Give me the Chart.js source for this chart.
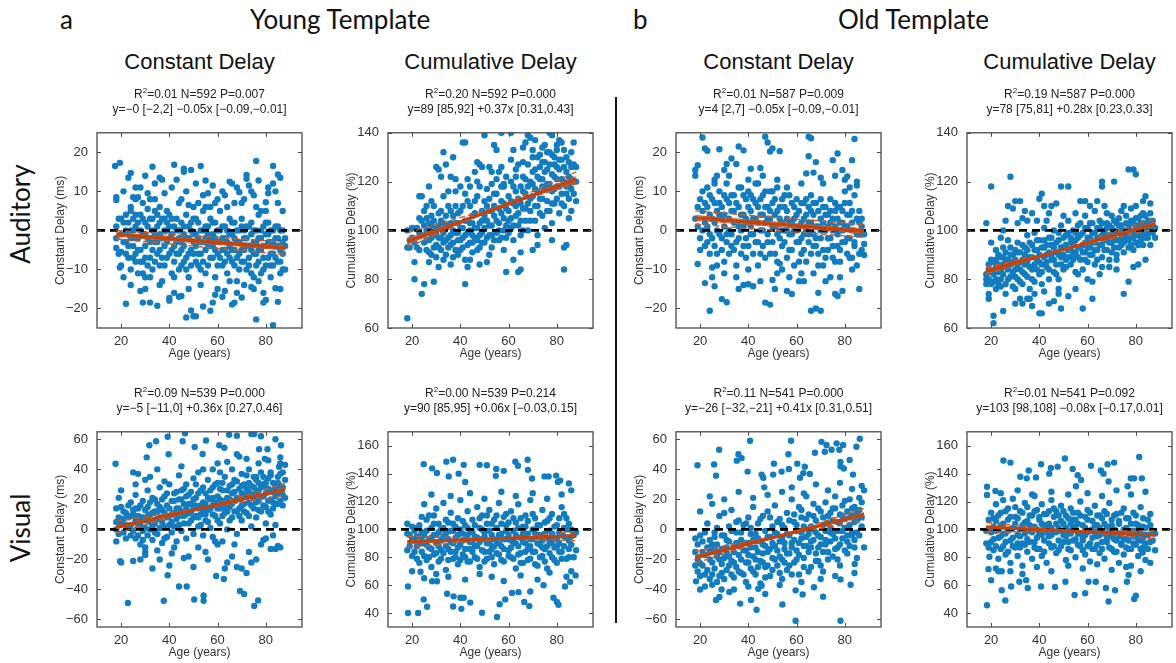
<!DOCTYPE html>
<html>
<head>
<meta charset="utf-8">
<script src="https://cdn.jsdelivr.net/npm/chart.js@4.4.0/dist/chart.umd.min.js"></script>
<style>
  html, body { margin: 0; padding: 0; background: #fff; }
  #fig { position: relative; width: 1176px; height: 663px; overflow: hidden; font-family: 'Liberation Sans', Arial, sans-serif; color: #1a1a1a; }
  .abs { position: absolute; white-space: nowrap; }
  .big { font-family: Lato, 'Open Sans', sans-serif; font-size: 26px; color: #111; }
  .coltitle { font-size: 22px; color: #111; text-align: center; width: 205px; }
  .stats { font-size: 12px; line-height: 15px; text-align: center; width: 260px; color: #222; }
  .stats sup { font-size: 8px; vertical-align: 5px; line-height: 0; }
  canvas { position: absolute; }
</style>
</head>
<body>
<div id="fig"></div>
<script>
/* ── Data (age in years, delay) ──────────────────────────────────────── */
const ageTicks = [20, 40, 60, 80];
const fitAges = [18, 88];

const youngAudConst = [
  [17.5,16.5],[19.5,17.3],[18,8.5],[18,7.8],[19,3],[18,1],[18,-4.5],[19.5,-9.5],[20,-5.5],[22,-18.8],[21,10],[23,13.5],[24,14.7],[25,8.5],[24,-14],[26,8],[26,-6],[27,8.5],[28,11],[28,-15.5],[29,-18.5],[30,14],[31,9.5],[31,5.5],[32,-18.5],[33,16.3],[34,8],[35,-19.3],[36,13.5],[37,13],[38,9.5],[40,-18],[40,-17.3],[42,16.8],[43,13],[44,-17],[45,-16.8],[46,15.8],[46,15],[47,-22.3],[48,6.5],[49,15.5],[49,-20.5],[50,-22],[51,12],[51,-22],[53,16.5],[54,-19.5],[55,12.8],[56,9.5],[57,-20.6],[58,11.5],[58,-18.5],[59,-16.5],[62,-17],[63,-15.5],[65,12.5],[66,12],[66,-19],[67,-18.5],[68,-16],[69,9.8],[70,-17.2],[72,14.2],[72,13.2],[73,11.5],[74,-14.5],[75,-15],[76,17.8],[76,-22.8],[77,12.8],[78,5],[79,-16],[79,-18.5],[80,7.2],[80,-17.8],[81,11],[81,9.5],[83,16.5],[83,12],[83,-24.3],[84,10],[84,-14.8],[85,14.3],[86,13.5],[85,-18.3],[87,5],[87,-10],[88,-10],[88,-2],
  [32,8],[44,7],[52,7],[60,8],[64,6],[70,7],[75,9],[41,11],[47,10],[57,6],
  [20,-1],[21,2],[22,-3],[22,4],[23,-7],[24,0],[24,-10],[25,3],[25,-4],[26,-8],[26,1],[27,-2],[27,-11],[28,4],[28,-5],[29,-1],[29,-8],[30,2],[30,-12],[30,-4],[31,-2],[32,3],[32,-7],[33,0],[33,-10],[34,-3],[34,5],[35,-6],[35,1],[36,-1],[36,-9],[37,3],[37,-13],[38,-4],[38,0],[39,2],[39,-7],[40,-2],[40,4],[41,-5],[41,-11],[42,1],[42,-8],[43,-3],[43,3],[44,-6],[44,0],[45,2],[45,-9],[46,-4],[46,-1],[47,4],[47,-7],[48,-2],[48,-12],[49,0],[49,-5],[50,3],[50,-3],[51,-8],[51,-1],[52,2],[52,-6],[53,-10],[53,-3],[54,0],[54,5],[55,-5],[55,-2],[56,-9],[56,1],[57,-4],[57,3],[58,-1],[58,-7],[59,-12],[59,2],[60,-3],[60,-6],[61,0],[61,5],[62,-9],[62,-2],[63,-5],[63,1],[64,-11],[64,-3],[65,-7],[65,3],[66,-1],[66,-5],[67,2],[67,-9],[68,-3],[68,-13],[69,0],[69,-6],[70,3],[70,-8],[71,-2],[71,-5],[72,-10],[72,1],[73,-4],[73,-7],[74,2],[74,-1],[75,-6],[75,-12],[76,0],[76,-3],[77,-8],[77,4],[78,-2],[78,-5],[79,1],[79,-10],[80,-4],[80,-1],[81,-7],[81,2],[82,-3],[82,-9],[83,0],[83,-6],[84,-2],[84,-4],[85,-8],[85,1],[86,-5],[86,-11],[87,-3],[87,0],
  [18,-2],[19,-6],[20,3],[20,-9],[21,-3],[21,-12],[22,0],[22,-6],[23,2],[23,-4],[24,-2],[24,6],[25,-7],[25,0],[26,-2],[26,4],[27,-5],[27,2],[28,-8],[28,0],[29,3],[29,-11],[30,-1],[30,-7],[31,1],[31,-9],[32,-3],[32,-12],[33,-5],[33,3],[34,-1],[34,-8],[35,-3],[35,4],[36,2],[36,-5],[37,-2],[37,-7],[38,-9],[38,3],[39,-3],[39,0],[40,-6],[40,1],[41,-1],[41,3],[42,-4],[42,-12],[43,-6],[43,0],[44,-2],[44,-10],[45,-5],[45,-3],[46,1],[46,-8],[47,-2],[47,-10],[48,1],[48,-6],[49,-9],[49,2],[50,-6],[50,-1],[51,-4],[51,3],[52,-2],[52,-9],[53,0],[53,-6],[54,-3],[54,-8],[55,1],[55,-11],[56,-4],[56,-1],[57,-7],[57,-2],[58,2],[58,-4],[59,-5],[59,-2],[60,0],[60,-9],[61,-3],[61,-7],[62,1],[62,-5],[63,-2],[63,-8],[64,0],[64,-6],[65,-4],[65,-1],[66,-8],[66,2],[67,-5],[67,-2],[68,0],[68,-7],[69,-3],[69,-10],[70,-5],[70,1],[71,-8],[71,0],[72,-4],[72,-2],[73,-9],[73,1],[74,-5],[74,-11],[75,-3],[75,0],[76,-6],[76,-9],[77,-2],[77,-5],[78,0],[78,-11],[79,-4],[79,-7],[80,2],[80,-9],[81,-3],[81,-1],[82,-6],[82,0],[83,-3],[83,-9],[84,1],[84,-7],[85,-4],[85,-2],[86,-8],[86,0],[87,-6],[88,-4],
  [24,5],[29,7],[36,6],[39,5],[45,8],[50,6],[54,9],[59,7],[63,9],[67,7],[71,8],[76,6],[80,5],[85,7],[26,11],[34,12],[55,6],[62,10],[68,11],[74,10],[30,-15],[36,-14],[42,-16],[48,-15],[53,-14],[60,-15],[65,-13],[71,-14],[77,-13],[82,-12],[86,-15]
];
const youngAudCum = [
  [18,64],[18,93],[18,100],[19,96],[21,87],[21,80],[24,74],[25,78],[23,114],[24,114],[26,110],[27,118],[29,79],[30,126],[31,125],[32,122],[33,132],[34,127],[35,116],[36,122],[37,130],[38,121],[39,90],[40,118],[41,136],[42,136],[42,78],[43,85],[44,118],[45,106],[46,124],[47,128],[48,127],[49,126],[50,139],[51,87],[52,126],[53,119],[54,135],[55,133],[56,124],[57,140],[58,119],[59,83],[61,140],[62,133],[63,125],[64,83],[65,84],[66,134],[67,136],[68,139],[69,138],[70,92],[71,137],[72,130],[73,126],[74,128],[75,135],[76,132],[77,140],[78,139],[79,130],[80,133],[81,137],[82,136],[83,84],[83,93],[84,94],[85,105],[86,126],[87,136],[88,126],
  [20,97],[22,101],[22,93],[23,99],[24,104],[25,95],[25,108],[26,92],[26,100],[27,103],[27,96],[28,90],[28,106],[29,98],[29,110],[30,94],[30,101],[31,97],[31,107],[32,92],[32,104],[33,99],[33,88],[34,96],[34,106],[35,102],[35,93],[36,98],[36,108],[37,95],[37,89],[38,103],[38,99],[39,107],[39,96],[40,92],[40,101],[41,110],[41,97],[42,104],[42,88],[43,99],[43,112],[44,95],[44,103],[45,98],[45,91],[46,107],[46,101],[47,96],[47,114],[48,103],[48,93],[49,108],[49,99],[50,95],[50,112],[51,104],[51,117],[52,98],[52,108],[53,102],[53,93],[54,110],[54,106],[55,99],[55,115],[56,103],[56,96],[57,112],[57,107],[58,100],[58,118],[59,109],[59,97],[60,114],[60,104],[61,101],[61,120],[62,111],[62,96],[63,106],[63,116],[64,102],[64,113],[65,118],[65,98],[66,109],[66,122],[67,104],[67,115],[68,111],[68,100],[69,120],[69,108],[70,114],[70,124],[71,104],[71,117],[72,110],[72,98],[73,121],[73,113],[74,106],[74,118],[75,124],[75,101],[76,112],[76,119],[77,108],[77,127],[78,116],[78,103],[79,122],[79,111],[80,118],[80,126],[81,107],[81,129],[82,115],[82,121],[83,110],[83,126],[84,118],[84,130],[85,113],[85,122],[86,117],[86,108],[87,120],[88,112],
  [19,93],[20,101],[21,95],[23,105],[23,92],[24,98],[25,102],[26,96],[26,105],[27,91],[27,100],[28,97],[28,102],[29,93],[29,104],[30,99],[30,89],[31,102],[31,93],[32,97],[32,108],[33,95],[33,103],[34,90],[34,101],[35,97],[35,110],[36,94],[36,103],[37,100],[37,106],[38,92],[38,110],[39,99],[39,103],[40,96],[40,108],[41,93],[41,101],[42,98],[42,115],[43,94],[43,104],[44,100],[44,110],[45,95],[45,103],[46,97],[46,112],[47,101],[47,92],[48,98],[48,118],[49,95],[49,104],[50,101],[50,106],[51,97],[51,110],[52,102],[52,113],[53,108],[53,98],[54,96],[54,115],[55,104],[55,121],[56,109],[56,100],[57,97],[57,118],[58,105],[58,111],[59,102],[59,122],[60,99],[60,108],[61,112],[61,105],[62,118],[62,102],[63,110],[63,122],[64,107],[64,127],[65,111],[65,104],[66,116],[66,100],[67,121],[67,109],[68,118],[68,127],[69,113],[69,104],[70,119],[70,130],[71,110],[71,125],[72,116],[72,122],[73,107],[73,131],[74,121],[74,113],[75,117],[75,128],[76,125],[76,108],[77,119],[77,132],[78,123],[78,111],[79,127],[79,117],[80,121],[80,113],[81,125],[81,118],[82,129],[82,111],[83,120],[83,133],[84,124],[84,115],[85,128],[85,119],[86,121],[86,132],[87,115],[87,127],[88,120],
  [80,135],[78,131],[74,134],[70,133],[66,128],[61,129],[57,126],[53,124],[47,120],[43,121],[38,116],[33,114],[28,112],[65,91],[58,92],[52,90],[48,86],[44,88],[36,86],[31,85],[27,87],[72,94],[78,96],[62,88]
];
const oldAudConst = [
  [18,14],[18,15.5],[19,16.7],[21,23.8],[22,21],[23,20.4],[23,-3],[19,-8.6],[22,-13.5],[24,-20.6],[25,-9.5],[26,-14.3],[28,20.8],[29,-17.6],[31,-18.4],[33,18.4],[31,17],[30,15.5],[27,14],[35,17],[36,21.5],[38,20.5],[41,15.8],[47,24],[48,22.5],[49,20.2],[50,21],[53,20.3],[45,16],[44,12],[40,-13.8],[42,-14.3],[38,-14],[36,-15],[47,-18.5],[49,-19],[50,-12.7],[51,-15],[53,-8.5],[56,-15.5],[58,-16.3],[62,-11],[63,-13],[66,23.6],[65,24],[65,19],[67,14.8],[68,17.5],[70,13.5],[66,-20.6],[68,-20],[70,-20.6],[69,-16],[74,-12],[76,-16.3],[77,-16.8],[79,-15.5],[75,18],[77,19.7],[79,15.5],[81,13.8],[83,18],[84,23.4],[85,11.5],[86,-15],[88,-6.3],[88,-3.5],[85,12.5],[82,11],[64,14.6],
  [19,1],[20,-2],[21,5],[22,2],[23,6],[24,-1],[24,9],[25,3],[26,-4],[26,7],[27,0],[27,-6],[28,4],[28,10],[29,-2],[29,6],[30,1],[30,-8],[31,8],[31,-3],[32,3],[32,-6],[33,5],[33,-1],[34,-5],[34,9],[35,2],[35,-9],[36,6],[36,-2],[37,0],[37,11],[38,-4],[38,4],[39,8],[39,-7],[40,2],[40,10],[41,-1],[41,5],[42,-6],[42,8],[43,3],[43,-3],[44,6],[44,-9],[45,0],[45,4],[46,9],[46,-4],[47,2],[47,-7],[48,6],[48,-1],[49,10],[49,3],[50,-3],[50,7],[51,1],[51,-6],[52,5],[52,11],[53,-2],[53,3],[54,8],[54,-4],[55,0],[55,6],[56,-7],[56,3],[57,9],[57,-1],[58,2],[58,-5],[59,6],[59,0],[60,-3],[60,4],[61,-8],[61,1],[62,7],[62,-2],[63,3],[63,-5],[64,0],[64,8],[65,-3],[65,2],[66,5],[66,-6],[67,-1],[67,4],[68,-4],[68,7],[69,1],[69,-9],[70,3],[70,-2],[71,6],[71,-5],[72,0],[72,-7],[73,4],[73,-2],[74,2],[74,8],[75,-4],[75,0],[76,5],[76,-8],[77,-1],[77,3],[78,6],[78,-5],[79,0],[79,2],[80,-3],[80,7],[81,-6],[81,1],[82,4],[82,-2],[83,-7],[83,2],[84,0],[84,-4],[85,3],[85,-9],[86,-1],[86,5],[87,-5],[87,1],
  [18,3],[19,6],[20,8],[20,-5],[21,0],[21,10],[22,-4],[22,7],[23,1],[23,11],[24,4],[24,-6],[25,8],[25,-2],[26,2],[26,12],[27,5],[27,-9],[28,-1],[28,7],[29,3],[29,-5],[30,9],[30,4],[31,-1],[31,12],[32,7],[32,0],[33,-4],[33,9],[34,2],[34,5],[35,7],[35,-3],[36,1],[36,11],[37,-6],[37,4],[38,9],[38,1],[39,3],[39,-2],[40,6],[40,-4],[41,9],[41,1],[42,3],[42,-1],[43,7],[43,12],[44,2],[44,-3],[45,8],[45,-6],[46,4],[46,0],[47,6],[47,10],[48,-3],[48,3],[49,5],[49,-6],[50,1],[50,10],[51,4],[51,8],[52,-1],[52,-8],[53,6],[53,0],[54,2],[54,-10],[55,9],[55,-3],[56,5],[56,0],[57,2],[57,-5],[58,7],[58,-1],[59,3],[59,-9],[60,8],[60,0],[61,5],[61,-3],[62,2],[62,-6],[63,7],[63,-1],[64,4],[64,-8],[65,6],[65,-1],[66,2],[66,9],[67,-4],[67,7],[68,1],[68,-2],[69,5],[69,-6],[70,8],[70,0],[71,2],[71,-9],[72,4],[72,6],[73,-5],[73,1],[74,-2],[74,5],[75,3],[75,-7],[76,1],[76,7],[77,-4],[77,6],[78,2],[78,-8],[79,5],[79,-3],[80,1],[80,10],[81,-2],[81,4],[82,-7],[82,7],[83,0],[83,5],[84,-3],[84,9],[85,-1],[86,2],[86,-6],[87,3],[88,-1],
  [25,-12],[30,-11],[35,-12],[40,-10],[45,-13],[52,-11],[57,-12],[61,-13],[67,-11],[72,-13],[78,-12],[83,-10],[26,13],[32,14],[40,13],[46,14],[52,13],[56,11],[62,12],[71,12],[76,14],[80,13]
];
const oldAudCum = [
  [18,103],[20,118],[19,72],[21,65],[21,62],[25,67],[28,122],[30,112],[32,112],[32,72],[41,115],[40,113],[49,118],[52,118],[42,110],[40,66],[41,66],[49,68],[58,68],[62,72],[66,118],[66,120],[71,120],[75,74],[77,79],[79,125],[77,125],[80,123],[83,112],[84,114],[18,78],[18,80],[19,74],[22,76],[23,78],[26,104],[27,110],[25,100],[29,109],[33,105],[34,108],[37,107],[35,104],[43,104],[45,110],[47,111],[55,107],[57,112],[59,112],[61,110],[63,108],[64,112],[68,107],[70,106],[73,105],[75,110],[80,110],[82,106],[86,111],[87,104],[30,70],[33,70],[35,72],[37,69],[44,70],[46,71],[48,74],[52,73],[55,76],[62,79],[65,82],[69,85],[72,84],[79,85],[81,86],[84,88],
  [19,84],[20,88],[21,79],[22,85],[22,92],[23,83],[24,89],[24,80],[25,86],[25,93],[26,78],[26,88],[27,84],[27,96],[28,81],[28,90],[29,87],[29,77],[30,92],[30,84],[31,80],[31,95],[32,87],[32,91],[33,83],[33,78],[34,93],[34,86],[35,81],[35,98],[36,89],[36,76],[37,94],[37,84],[38,79],[38,99],[39,88],[39,92],[40,82],[40,96],[41,86],[41,78],[42,93],[42,101],[43,85],[43,90],[44,97],[44,80],[45,88],[45,94],[46,83],[46,100],[47,91],[47,86],[48,96],[48,80],[49,89],[49,102],[50,93],[50,84],[51,98],[51,88],[52,92],[52,104],[53,86],[53,95],[54,100],[54,90],[55,83],[55,96],[56,93],[56,102],[57,88],[57,98],[58,94],[58,84],[59,101],[59,91],[60,97],[60,87],[61,103],[61,93],[62,90],[62,99],[63,95],[63,86],[64,101],[64,92],[65,97],[65,104],[66,89],[66,94],[67,100],[67,96],[68,92],[68,103],[69,98],[69,88],[70,101],[70,95],[71,93],[71,104],[72,99],[72,90],[73,96],[73,102],[74,94],[74,100],[75,98],[75,91],[76,103],[76,96],[77,100],[77,93],[78,97],[78,104],[79,99],[79,92],[80,102],[80,95],[81,98],[81,105],[82,96],[82,101],[83,103],[83,94],[84,99],[84,106],[85,97],[85,101],[86,94],[86,103],[87,99],[88,97],
  [18,82],[19,86],[19,80],[20,83],[20,78],[21,87],[21,82],[22,80],[22,88],[23,86],[23,90],[24,84],[24,77],[25,82],[25,89],[26,85],[26,91],[27,80],[27,88],[28,86],[28,93],[29,83],[29,90],[30,88],[30,81],[31,86],[31,91],[32,84],[32,79],[33,88],[33,94],[34,82],[34,90],[35,87],[35,92],[36,85],[36,95],[37,89],[37,80],[38,92],[38,86],[39,84],[39,96],[40,90],[40,87],[41,93],[41,83],[42,89],[42,96],[43,94],[43,87],[44,91],[44,84],[45,97],[45,90],[46,88],[46,93],[47,95],[47,82],[48,90],[48,99],[49,93],[49,86],[50,97],[50,90],[51,94],[51,85],[52,89],[52,99],[53,92],[53,97],[54,88],[54,94],[55,91],[55,99],[56,97],[56,89],[57,93],[57,103],[58,99],[58,91],[59,95],[59,88],[60,93],[60,101],[61,97],[61,90],[62,95],[62,103],[63,99],[63,92],[64,97],[64,88],[65,101],[65,94],[66,98],[66,103],[67,92],[67,99],[68,97],[68,101],[69,95],[69,102],[70,98],[70,91],[71,100],[71,97],[72,96],[72,103],[73,99],[73,93],[74,102],[74,97],[75,100],[75,95],[76,98],[76,106],[77,102],[77,96],[78,100],[78,94],[79,103],[79,97],[80,99],[80,105],[81,101],[81,94],[82,103],[82,98],[83,100],[83,107],[84,102],[84,97],[85,104],[85,99],[86,100],[86,107],[87,102],[88,101],
  [78,109],[74,108],[67,110],[59,106],[50,106],[44,107],[39,104],[31,103],[24,97],[20,95],[48,76],[42,75],[38,74],[30,76],[26,74],[60,80],[66,85],[56,82],[72,88],[36,72]
];
const youngVisConst = [
  [17.7,43.7],[22.8,-49],[37.7,-47.5],[50.3,-46.7],[54.2,-44],[54.2,-47.5],[75.2,-51],[76.8,-47.3],[71,-43],[69.3,-41],[59.4,-31],[62.6,-33],[39.3,-30.5],[47.2,-38],[19.6,-21.2],
  [46.5,64],[39.3,61.7],[34.5,58.7],[31.7,56],[30.6,48],[39.7,50],[45.5,58.7],[50.5,54.9],[53.8,50.2],[55.2,59.2],[60.7,56],[62.8,54.4],[64.8,63],[68,62.4],[69,48.5],[74,63.5],[75.2,63.5],[78,62],[77.2,53.4],[80.7,53.4],[79.6,47],[84,60],[85.5,41.7],[86,44],[86.3,56],
  [25,38],[27,37],[30,33],[35,40],[45,42],[47,30],[52,38],[58,40],[61,38],[66,40],[70,37],[73,40],[76,35],[80,28],[82,36],[84,30],[87,38],[88,43],
  [18,-8],[20,-22],[25,-21],[28,-20],[30,-17],[33,-26],[36,-20],[40,-24],[41,-16],[44,-38],[46,-19],[50,-25],[52,-12],[56,-20],[58,-5],[60,-10],[63,-26],[64,-22],[66,-18],[68,-25],[70,-26],[72,-29],[74,-22],[76,-20],[78,-10],[79,-7],[82,-13],[85,-11],[86,-12],[84,-13],
  [18,5],[18,14],[19,21],[20,26],[21,12],[22,3],[23,8],[24,-4],[24,18],[25,10],[26,-6],[26,23],[27,14],[27,2],[28,-10],[28,8],[29,19],[29,-1],[30,6],[30,-12],[31,15],[31,26],[32,0],[32,10],[33,-7],[33,21],[34,12],[34,4],[35,-3],[35,17],[36,8],[36,28],[37,-9],[37,13],[38,2],[38,22],[39,16],[39,-5],[40,9],[40,30],[41,5],[41,-2],[42,19],[42,11],[43,-8],[43,25],[44,14],[44,3],[45,-1],[45,20],[46,9],[46,27],[47,15],[47,-6],[48,4],[48,23],[49,12],[49,17],[50,-3],[50,8],[51,21],[51,30],[52,14],[52,2],[53,26],[53,10],[54,18],[54,-4],[55,6],[55,24],[56,13],[56,33],[57,20],[57,1],[58,16],[58,28],[59,9],[59,-8],[60,22],[60,31],[61,14],[61,4],[62,26],[62,18],[63,11],[63,35],[64,21],[64,0],[65,29],[65,15],[66,8],[66,24],[67,19],[67,33],[68,12],[68,-3],[69,27],[69,20],[70,16],[70,6],[71,30],[71,23],[72,11],[72,36],[73,25],[73,18],[74,2],[74,29],[75,21],[75,14],[76,33],[76,8],[77,26],[77,19],[78,38],[78,12],[79,30],[79,22],[80,15],[80,4],[81,27],[81,34],[82,20],[82,10],[83,31],[83,25],[84,17],[84,3],[85,24],[85,35],[86,29],[86,19],[87,23],[88,33],
  [18,0],[19,8],[19,-3],[20,4],[20,15],[21,-2],[21,7],[22,11],[22,-6],[23,1],[23,16],[24,9],[24,3],[25,-1],[25,13],[26,6],[26,14],[27,-4],[27,9],[28,3],[28,16],[29,8],[29,-7],[30,13],[30,1],[31,9],[31,-4],[32,18],[32,5],[33,11],[33,2],[34,-2],[34,20],[35,7],[35,12],[36,15],[36,1],[37,5],[37,20],[38,11],[38,-6],[39,8],[39,24],[40,14],[40,3],[41,19],[41,10],[42,2],[42,24],[43,14],[43,7],[44,20],[44,9],[45,12],[45,26],[46,4],[46,17],[47,10],[47,22],[48,17],[48,11],[49,6],[49,25],[50,14],[50,20],[51,9],[51,16],[52,24],[52,8],[53,16],[53,3],[54,12],[54,28],[55,17],[55,10],[56,21],[56,5],[57,14],[57,26],[58,10],[58,21],[59,18],[59,30],[60,14],[60,6],[61,20],[61,27],[62,9],[62,31],[63,19],[63,15],[64,26],[64,12],[65,20],[65,6],[66,30],[66,17],[67,12],[67,25],[68,21],[68,32],[69,14],[69,9],[70,24],[70,29],[71,17],[71,12],[72,22],[72,27],[73,31],[73,9],[74,16],[74,23],[75,28],[75,35],[76,18],[76,25],[77,13],[77,31],[78,22],[78,28],[79,16],[79,35],[80,24],[80,31],[81,19],[81,12],[82,26],[82,38],[83,18],[83,14],[84,22],[84,28],[85,31],[85,17],[86,25],[86,37],[87,28],[87,16],[88,21],
  [30,-15],[35,-14],[42,-12],[48,-18],[55,-15],[62,-8],[67,-10],[73,-15],[80,-6],[83,-4],[26,30],[32,35],[38,32],[44,36],[50,34],[54,40],[60,44],[64,45],[68,50],[72,47],[77,44],[81,46],[86,48]
];
const youngVisCum = [
  [24.8,146.8],[28.3,143.8],[30.3,140.4],[34.2,148.6],[35.2,138],[37,150],[39.3,140],[41.4,146.3],[42,134],[48,146.3],[51,146],[54.9,143.4],[54.7,138.4],[58,142],[62.8,148.6],[63.9,145.7],[67.9,150],[68,142.7],[69.7,136.5],[74.9,138],[76.6,138],[79.7,138.6],[80.4,134],[81.4,135],[85,133],
  [18.3,40],[22.5,40],[18.3,59],[20,70],[23.5,69.6],[24.8,49.8],[26.2,44.5],[28.3,62.8],[30.3,62.8],[34.5,53.9],[37,44.7],[37.2,52],[40,51],[41.4,51],[40.4,43],[44.1,47.5],[49,40.2],[55.2,37.2],[56.3,46.3],[58.6,49.8],[61.4,54.4],[64.1,55],[66.5,48],[68.6,45],[69,55.5],[74.5,60],[78.6,51],[80,48],[80.7,46],[83.4,59],[85.5,62.4],[87.8,67],
  [18,85],[18,104],[19,96],[20,81],[21,92],[22,88],[22,101],[23,76],[23,95],[24,109],[24,84],[25,118],[25,90],[26,99],[26,78],[27,110],[27,87],[28,94],[28,73],[29,104],[29,82],[30,96],[30,115],[31,88],[31,77],[32,100],[32,92],[33,119],[33,83],[34,97],[34,71],[35,105],[35,86],[36,91],[36,112],[37,79],[37,99],[38,94],[38,84],[39,108],[39,75],[40,89],[40,121],[41,97],[41,82],[42,103],[42,93],[43,77],[43,113],[44,86],[44,99],[45,91],[45,107],[46,80],[46,95],[47,116],[47,88],[48,101],[48,73],[49,93],[49,110],[50,84],[50,98],[51,104],[51,79],[52,90],[52,114],[53,96],[53,86],[54,107],[54,75],[55,92],[55,101],[56,82],[56,119],[57,97],[57,88],[58,109],[58,77],[59,93],[59,103],[60,85],[60,96],[61,113],[61,80],[62,99],[62,91],[63,72],[63,105],[64,88],[64,118],[65,94],[65,83],[66,102],[66,76],[67,110],[67,90],[68,97],[68,86],[69,121],[69,79],[70,100],[70,93],[71,84],[71,108],[72,95],[72,74],[73,103],[73,89],[74,81],[74,114],[75,97],[75,86],[76,106],[76,72],[77,92],[77,99],[78,80],[78,111],[79,94],[79,87],[80,103],[80,76],[81,98],[81,90],[82,84],[82,116],[83,95],[83,101],[84,79],[84,108],[85,92],[85,86],[86,100],[86,70],[87,96],[88,85],
  [18,97],[19,88],[20,102],[20,93],[21,84],[21,99],[22,95],[22,79],[23,90],[23,103],[24,92],[24,98],[25,81],[25,96],[26,107],[26,89],[27,93],[27,80],[28,101],[28,86],[29,96],[29,110],[30,83],[30,90],[31,98],[31,104],[32,85],[32,79],[33,95],[33,101],[34,88],[34,107],[35,93],[35,78],[36,99],[36,84],[37,104],[37,90],[38,80],[38,102],[39,96],[39,87],[40,78],[40,100],[41,106],[41,92],[42,86],[42,80],[43,96],[43,101],[44,91],[44,77],[45,98],[45,84],[46,103],[46,88],[47,94],[47,79],[48,108],[48,91],[49,85],[49,100],[50,95],[50,77],[51,90],[51,110],[52,84],[52,99],[53,104],[53,80],[54,93],[54,88],[55,110],[55,83],[56,96],[56,90],[57,78],[57,104],[58,93],[58,86],[59,99],[59,111],[60,81],[60,105],[61,92],[61,87],[62,108],[62,79],[63,96],[63,90],[64,101],[64,82],[65,108],[65,76],[66,91],[66,97],[67,84],[67,102],[68,106],[68,78],[69,93],[69,88],[70,84],[70,111],[71,97],[71,75],[72,90],[72,103],[73,80],[73,96],[74,92],[74,87],[75,105],[75,77],[76,94],[76,88],[77,83],[77,108],[78,90],[78,97],[79,102],[79,78],[80,88],[80,93],[81,84],[81,108],[82,96],[82,79],[83,88],[83,111],[84,94],[84,100],[85,80],[85,104],[86,89],[86,95],[87,80],[88,98],
  [25,65],[30,68],[35,66],[42,64],[48,68],[53,66],[58,63],[65,67],[72,64],[77,69],[84,66],[28,125],[36,124],[44,126],[50,122],[57,127],[63,124],[70,126],[76,122],[82,125],[86,128]
];
const oldVisConst = [
  [18.9,42.7],[26.6,35.8],[25.8,43.3],[27.9,53],[35.2,45.8],[35.9,50],[37.2,47.5],[40.7,59],[39.7,38.5],[45.5,36.5],[46.2,34.4],[46.6,28],[50.3,36.5],[50.6,43.8],[53.8,38.5],[56.8,40.2],[56.6,50],[57.7,59],[60.3,43.8],[61.4,34.4],[62.8,37.5],[63.4,41.7],[65.5,36.9],[67.6,51],[70.3,58.3],[71.7,51.7],[72.4,56.2],[74.5,53],[76.6,57.3],[77.7,53],[79.3,56.2],[78.2,42],[78.2,45],[79.6,40.6],[82,46.3],[84.8,55],[86.2,60.4],[83.4,36.5],
  [18.3,-34.6],[20,-40],[25,-36.9],[26.6,-47],[28.9,-40],[32.1,-41.7],[36.6,-49.4],[41.1,-47],[43.4,-53.5],[44.1,-39.6],[45.5,-37.5],[54.1,-50],[59.6,-40.6],[59.6,-60.8],[62.5,-43.3],[67.2,-38.5],[71,-44.8],[78.2,-60.8],[78.2,-33.3],[82.4,-36.9],[84.1,-23],[85,-19],[20,-22.5],
  [18,-24],[18,-6],[19,-28],[20,12],[21,-15],[22,-30],[22,-2],[23,4],[24,-20],[24,-33],[25,-10],[25,17],[26,-26],[26,-5],[27,-18],[27,1],[28,-31],[28,9],[29,-13],[29,-23],[30,-4],[30,11],[31,-27],[31,-16],[32,-8],[32,2],[33,-21],[33,13],[34,-32],[34,-11],[35,-2],[35,-25],[36,-17],[36,6],[37,-29],[37,-7],[38,-14],[38,3],[39,-22],[39,-35],[40,-9],[40,8],[41,-26],[41,-3],[42,-18],[42,15],[43,-12],[43,-30],[44,-6],[44,4],[45,-21],[45,-36],[46,-10],[46,9],[47,-25],[47,-1],[48,-15],[48,12],[49,-31],[49,-5],[50,-19],[50,2],[51,-11],[51,16],[52,-24],[52,-3],[53,-8],[53,7],[54,-20],[54,-33],[55,1],[55,-13],[56,-27],[56,11],[57,-4],[57,-16],[58,20],[58,-9],[59,-22],[59,5],[60,-1],[60,-14],[61,15],[61,-30],[62,-6],[62,8],[63,-19],[63,2],[64,22],[64,-11],[65,-3],[65,10],[66,-25],[66,-8],[67,17],[67,0],[68,-16],[68,6],[69,-4],[69,-21],[70,12],[70,-10],[71,3],[71,-28],[72,18],[72,-7],[73,-15],[73,9],[74,1],[74,-2],[75,14],[75,-18],[76,-6],[76,22],[77,5],[77,-12],[78,10],[78,-24],[79,-1],[79,16],[80,-14],[80,7],[81,12],[81,-8],[82,3],[82,20],[83,-4],[83,9],[84,-12],[84,15],[85,6],[85,-2],[86,13],[87,18],[87,2],[88,26],
  [18,-15],[19,-20],[19,-10],[20,-31],[20,-4],[21,-24],[21,-8],[22,-17],[22,-38],[23,-12],[23,-27],[24,-7],[24,-14],[25,-30],[25,-22],[26,-13],[26,-2],[27,-35],[27,-10],[28,-20],[28,-15],[29,-29],[29,-4],[30,-19],[30,-33],[31,-7],[31,-12],[32,-24],[32,-18],[33,-1],[33,-30],[34,-15],[34,-22],[35,-9],[35,5],[36,-28],[36,-11],[37,-20],[37,-2],[38,-30],[38,-9],[39,-14],[39,4],[40,-22],[40,-17],[41,-12],[41,1],[42,-7],[42,-28],[43,-20],[43,-3],[44,-15],[44,-25],[45,-8],[45,7],[46,-22],[46,-16],[47,-11],[47,-32],[48,-5],[48,-24],[49,-13],[49,8],[50,-9],[50,-27],[51,-2],[51,-20],[52,-14],[52,5],[53,-18],[53,-29],[54,-6],[54,3],[55,-22],[55,-9],[56,-16],[56,-3],[57,6],[57,-24],[58,-12],[58,-30],[59,-7],[59,10],[60,-20],[60,3],[61,-9],[61,-17],[62,-2],[62,13],[63,-11],[63,-25],[64,-5],[64,7],[65,-15],[65,-28],[66,2],[66,-12],[67,-7],[67,9],[68,-21],[68,-2],[69,14],[69,-12],[70,-5],[70,-24],[71,8],[71,-15],[72,-1],[72,-10],[73,4],[73,-20],[74,11],[74,-8],[75,-3],[75,6],[76,-13],[76,14],[77,-1],[77,-20],[78,4],[78,-10],[79,9],[79,-6],[80,1],[80,19],[81,-4],[81,-16],[82,8],[82,-11],[83,14],[83,-2],[84,5],[84,-7],[85,11],[86,-4],[86,21],[87,8],[88,-12],
  [24,22],[30,20],[36,25],[42,21],[48,23],[54,25],[58,28],[63,24],[68,30],[73,26],[78,31],[83,27],[87,29],[28,-45],[34,-40],[40,-38],[47,-43],[53,-37],[62,-35],[70,-33],[76,-31],[84,-29]
];
const oldVisCum = [
  [18.3,130.6],[18.3,124.7],[25.1,149.4],[28,147.9],[21.8,127.6],[32.1,137.8],[34.8,136.6],[35.6,142.2],[38.6,137.3],[40.7,146.7],[44.1,140],[44.8,144],[47.6,145],[50.6,150.8],[53.8,143.4],[55.9,138.9],[55.2,131],[57.3,135.5],[61.4,145.6],[65.5,142.2],[66.6,140],[68.3,146.7],[71,147.9],[68.7,134.4],[76.6,131],[77.9,136.6],[79.3,136.6],[81.4,151.9],[82.5,136.6],
  [18.3,45.6],[18.9,71.5],[19.3,80.4],[20,63.6],[23,70],[24.4,70],[24.4,56.4],[25.9,49],[28.3,59],[31.7,62.5],[34.5,63.6],[35.2,58],[40.7,59],[46.5,58.7],[50.8,62.5],[54.6,53],[59,54.2],[60.4,62.5],[63.4,62.5],[67.6,58],[68.7,48.3],[71.4,56.4],[76.3,62.5],[77,67.4],[79.3,50.1],[80,52.4],[82.8,83.4],
  [18,90],[19,100],[20,91],[21,108],[21,85],[22,99],[22,118],[23,94],[23,79],[24,112],[24,103],[25,88],[25,121],[26,97],[26,82],[27,107],[27,115],[28,92],[28,76],[29,101],[29,122],[30,87],[30,109],[31,96],[31,81],[32,113],[32,100],[33,90],[33,74],[34,105],[34,119],[35,93],[35,84],[36,110],[36,99],[37,79],[37,125],[38,102],[38,91],[39,114],[39,86],[40,97],[40,107],[41,81],[41,118],[42,100],[42,92],[43,111],[43,76],[44,95],[44,104],[45,87],[45,121],[46,109],[46,98],[47,83],[47,113],[48,101],[48,92],[49,117],[49,88],[50,104],[50,96],[51,78],[51,110],[52,99],[52,91],[53,115],[53,85],[54,102],[54,107],[55,93],[55,80],[56,112],[56,97],[57,88],[57,120],[58,103],[58,94],[59,82],[59,109],[60,98],[60,114],[61,90],[61,77],[62,106],[62,100],[63,86],[63,117],[64,95],[64,103],[65,83],[65,110],[66,98],[66,91],[67,113],[67,79],[68,102],[68,94],[69,87],[69,119],[70,96],[70,107],[71,84],[71,100],[72,111],[72,92],[73,76],[73,104],[74,97],[74,89],[75,115],[75,82],[76,101],[76,93],[77,86],[77,108],[78,98],[78,74],[79,112],[79,90],[80,95],[80,104],[81,81],[81,99],[82,92],[82,116],[83,87],[83,102],[84,96],[84,78],[85,107],[86,91],[87,99],[88,85],
  [18,99],[19,107],[19,87],[20,98],[20,112],[21,93],[21,102],[22,106],[22,88],[23,110],[23,100],[24,95],[24,86],[25,104],[25,97],[26,113],[26,91],[27,99],[27,84],[28,109],[28,100],[29,94],[29,88],[30,104],[30,116],[31,90],[31,108],[32,95],[32,87],[33,103],[33,112],[34,97],[34,89],[35,106],[35,116],[36,91],[36,103],[37,98],[37,110],[38,87],[38,113],[39,100],[39,94],[40,109],[40,86],[41,104],[41,96],[42,111],[42,84],[43,98],[43,103],[44,113],[44,90],[45,101],[45,96],[46,88],[46,115],[47,104],[47,98],[48,110],[48,85],[49,99],[49,106],[50,91],[50,113],[51,101],[51,95],[52,108],[52,86],[53,97],[53,104],[54,112],[54,92],[55,100],[55,107],[56,89],[56,104],[57,97],[57,110],[58,92],[58,85],[59,101],[59,96],[60,107],[60,88],[61,99],[61,112],[62,94],[62,86],[63,103],[63,98],[64,110],[64,89],[65,96],[65,101],[66,108],[66,86],[67,97],[67,104],[68,91],[68,111],[69,100],[69,95],[70,86],[70,103],[71,110],[71,93],[72,98],[72,84],[73,106],[73,95],[74,90],[74,112],[75,100],[75,93],[76,87],[76,108],[77,97],[77,92],[78,104],[78,86],[79,99],[79,95],[80,110],[80,89],[81,93],[81,103],[82,97],[82,86],[83,108],[83,94],[84,90],[84,101],[85,96],[85,86],[86,103],[86,111],[87,92],[88,97],
  [22,72],[28,70],[33,68],[39,73],[45,70],[52,74],[58,72],[64,75],[70,71],[76,73],[82,70],[86,76],[24,126],[31,128],[38,124],[45,127],[52,125],[60,126],[66,124],[72,128],[78,125],[84,127]
];

// regression lines at fitAges: [fit, two bootstrap lines, lower/upper CI]
const youngAudConstFit = [[-1.0,-4.5],[-0.6,-4.0],[-1.5,-5.0],[0,-3.0],[-2.2,-6.2]];
const youngAudCumFit   = [[95.5,121],[96.5,120],[94.5,122],[99,119],[93,124]];
const oldAudConstFit   = [[3.2,-0.2],[3.8,0.3],[2.6,-0.7],[5,1.5],[1.6,-1.8]];
const oldAudCumFit     = [[83.3,102.6],[84,102],[82.6,103.4],[85,100.5],[82,105]];
const youngVisConstFit = [[1.5,26.5],[2.5,25.5],[0.5,27.5],[5.5,22.5],[-2.5,30.5]];
const youngVisCumFit   = [[91,95.3],[92,94.5],[90,96],[95,92],[87,98.5]];
const oldVisConstFit   = [[-18.6,10],[-17.5,9],[-19.7,11],[-14.5,6],[-22.5,14]];
const oldVisCumFit     = [[101.6,96],[102.3,95.3],[100.9,96.7],[105,93],[98,99]];

const constTicks = [-20, -10, 0, 10, 20];
const cumTicks = [60, 80, 100, 120, 140];
const visConstTicks = [-60, -40, -20, 0, 20, 40, 60];
const visCumTicks = [40, 60, 80, 100, 120, 140, 160];

const statsText = [
  ['R<sup>2</sup>=0.01 N=592 P=0.007', 'y=−0 [−2,2] −0.05x [−0.09,−0.01]'],
  ['R<sup>2</sup>=0.20 N=592 P=0.000', 'y=89 [85,92] +0.37x [0.31,0.43]'],
  ['R<sup>2</sup>=0.01 N=587 P=0.009', 'y=4 [2,7] −0.05x [−0.09,−0.01]'],
  ['R<sup>2</sup>=0.19 N=587 P=0.000', 'y=78 [75,81] +0.28x [0.23,0.33]'],
  ['R<sup>2</sup>=0.09 N=539 P=0.000', 'y=−5 [−11,0] +0.36x [0.27,0.46]'],
  ['R<sup>2</sup>=0.00 N=539 P=0.214', 'y=90 [85,95] +0.06x [−0.03,0.15]'],
  ['R<sup>2</sup>=0.11 N=541 P=0.000', 'y=−26 [−32,−21] +0.41x [0.31,0.51]'],
  ['R<sup>2</sup>=0.01 N=541 P=0.092', 'y=103 [98,108] −0.08x [−0.17,0.01]'],
];

/* ── Layout ──────────────────────────────────────────────────────────── */
const BOX_W = 205, BOX_H = 206;
const colLeft = [97, 388, 676, 967];
const rowTop = [122, 421];
const AX_W = 50, AX_H = 36, PAD = 6;

const fig = document.getElementById('fig');

function addText(html, cls, left, top, extra) {
  const d = document.createElement('div');
  d.className = 'abs ' + cls;
  d.innerHTML = html;
  d.style.left = left + 'px';
  d.style.top = top + 'px';
  if (extra) Object.assign(d.style, extra);
  fig.appendChild(d);
  return d;
}

addText('a', 'big', 60, 3);
addText('Young Template', 'big', 250, 3);
addText('b', 'big', 633, 3);
addText('Old Template', 'big', 838, 3);
addText('Auditory', 'big', -30, 198, { transform: 'rotate(-90deg)', width: '100px', textAlign: 'center' });
addText('Visual', 'big', -30, 512, { transform: 'rotate(-90deg)', width: '100px', textAlign: 'center' });
['Constant Delay', 'Cumulative Delay', 'Constant Delay', 'Cumulative Delay'].forEach((t, i) => {
  addText(t, 'coltitle', colLeft[i], 49);
});
const sep = document.createElement('div');
Object.assign(sep.style, { position: 'absolute', left: '615px', top: '97px', width: '2px', height: '526px', background: '#111' });
fig.appendChild(sep);

/* ── Box + inward ticks (MATLAB style) ───────────────────────────────── */
const boxTicks = {
  id: 'boxTicks',
  afterDatasetsDraw(chart) {
    const { ctx, chartArea: a, scales: { x, y } } = chart;
    ctx.save();
    ctx.strokeStyle = '#4a4a4a';
    ctx.lineWidth = 1.3;
    ctx.strokeRect(a.left, a.top, a.right - a.left, a.bottom - a.top);
    ctx.lineWidth = 1;
    ctx.beginPath();
    x.ticks.forEach(t => {
      const px = Math.round(x.getPixelForValue(t.value)) + 0.5;
      ctx.moveTo(px, a.bottom); ctx.lineTo(px, a.bottom - 4);
      ctx.moveTo(px, a.top); ctx.lineTo(px, a.top + 4);
    });
    y.ticks.forEach(t => {
      const py = Math.round(y.getPixelForValue(t.value)) + 0.5;
      ctx.moveTo(a.left, py); ctx.lineTo(a.left + 4, py);
      ctx.moveTo(a.right, py); ctx.lineTo(a.right - 4, py);
    });
    ctx.stroke();
    ctx.restore();
  },
};

const minus = v => String(v).replace('-', '−');
const tickFont = { family: "'Liberation Sans', Arial, sans-serif", size: 13 };
const titleFont = { family: "'Liberation Sans', Arial, sans-serif", size: 12 };

function renderPanel(i, col, row, points, fit, yTicks, yMin, yMax, ref, yTitle) {
  const left = colLeft[col], top = rowTop[row];
  const canvas = document.createElement('canvas');
  canvas.width = BOX_W + AX_W + PAD;
  canvas.height = BOX_H + AX_H + PAD;
  canvas.style.left = (left - AX_W) + 'px';
  canvas.style.top = (top - PAD) + 'px';
  fig.appendChild(canvas);

  addText(statsText[i][0] + '<br>' + statsText[i][1], 'stats', left + BOX_W / 2 - 130, top - 35);

  const fitSets = fit.map((ends, k) => ({
    data: fitAges.map((a, j) => ({ x: a, y: ends[j] })),
    showLine: true,
    pointRadius: 0,
    borderColor: k === 0 ? '#c4420c' : '#cf5a22',
    borderWidth: k === 0 ? 3.2 : (k < 3 ? 1.2 : 1.4),
    borderDash: k >= 3 ? [6, 3] : [],
    order: 0,
  }));

  new Chart(canvas, {
    type: 'scatter',
    data: {
      datasets: [
        ...fitSets,
        {
          data: [{ x: 10, y: ref }, { x: 95, y: ref }],
          showLine: true,
          pointRadius: 0,
          borderColor: '#000',
          borderWidth: 2.6,
          borderDash: [8, 5],
          order: 1,
        },
        {
          data: points.map(p => ({ x: p[0], y: p[1] })),
          pointRadius: 3.2,
          pointBorderWidth: 0,
          pointBackgroundColor: '#127cc1',
          order: 2,
        },
      ],
    },
    options: {
      responsive: false,
      animation: false,
      layout: { padding: { top: PAD, right: PAD, left: 0, bottom: 0 } },
      plugins: { legend: { display: false }, tooltip: { enabled: false } },
      scales: {
        x: {
          type: 'linear',
          min: 10, max: 95,
          afterBuildTicks: s => { s.ticks = ageTicks.map(v => ({ value: v })); },
          afterFit: s => { s.height = AX_H; },
          grid: { display: false, drawTicks: false },
          border: { display: false },
          ticks: { padding: 6, font: tickFont, color: '#333', maxRotation: 0, autoSkip: false, callback: minus },
          title: { display: true, text: 'Age (years)', font: titleFont, color: '#333', padding: { top: 0, bottom: 3 } },
        },
        y: {
          type: 'linear',
          min: yMin, max: yMax,
          afterBuildTicks: s => { s.ticks = yTicks.map(v => ({ value: v })); },
          afterFit: s => { s.width = AX_W; },
          grid: { display: false, drawTicks: false },
          border: { display: false },
          ticks: { padding: 9, font: tickFont, color: '#333', autoSkip: false, callback: minus },
          title: { display: true, text: yTitle, font: titleFont, color: '#333', padding: { top: 6, bottom: 0 } },
        },
      },
    },
    plugins: [boxTicks],
  });
}

renderPanel(0, 0, 0, youngAudConst, youngAudConstFit, constTicks, -25, 25, 0, 'Constant Delay (ms)');
renderPanel(1, 1, 0, youngAudCum, youngAudCumFit, cumTicks, 60, 140, 100, 'Cumulative Delay (%)');
renderPanel(2, 2, 0, oldAudConst, oldAudConstFit, constTicks, -25, 25, 0, 'Constant Delay (ms)');
renderPanel(3, 3, 0, oldAudCum, oldAudCumFit, cumTicks, 60, 140, 100, 'Cumulative Delay (%)');
renderPanel(4, 0, 1, youngVisConst, youngVisConstFit, visConstTicks, -65, 65, 0, 'Constant Delay (ms)');
renderPanel(5, 1, 1, youngVisCum, youngVisCumFit, visCumTicks, 30, 170, 100, 'Cumulative Delay (%)');
renderPanel(6, 2, 1, oldVisConst, oldVisConstFit, visConstTicks, -65, 65, 0, 'Constant Delay (ms)');
renderPanel(7, 3, 1, oldVisCum, oldVisCumFit, visCumTicks, 30, 170, 100, 'Cumulative Delay (%)');
</script>
</body>
</html>
